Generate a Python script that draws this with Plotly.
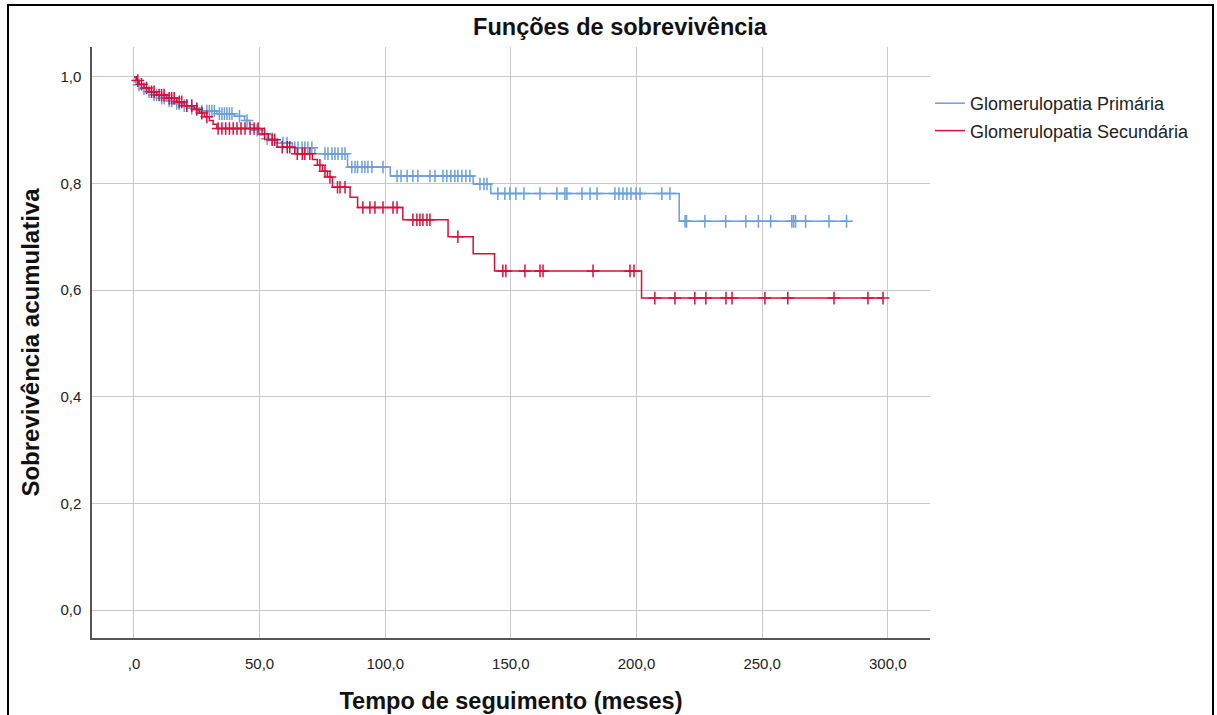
import numpy as np
import plotly.graph_objects as go

# ---- data ----
series_names = ["Glomerulopatia Primária", "Glomerulopatia Secundária"]

primary_event_times = [0.5, 1.5, 3, 5, 7, 10, 13, 16, 19, 22, 26, 33, 40, 44, 46, 48, 50, 52, 56,
                       63, 72, 85, 102, 135, 142, 217]
primary_surv = [0.990, 0.985, 0.978, 0.972, 0.966, 0.960, 0.955, 0.950, 0.946, 0.941, 0.936, 0.931,
                0.926, 0.918, 0.910, 0.900, 0.891, 0.884, 0.876, 0.867, 0.856, 0.831, 0.814, 0.799,
                0.781, 0.729]
primary_end = 283.6
primary_censor = [2, 4, 6, 8, 9, 11, 12, 14, 15, 17, 18, 20, 21, 23, 25, 27, 29, 30, 31, 32, 34, 35,
                  36, 37, 38, 39, 42, 45, 49, 53, 55, 59.3, 60.9, 64, 65.3, 66.9, 68, 69.2, 70.8,
                  76, 77.2, 78.8, 80, 81.2, 82.8, 84, 86.7, 88, 89, 90.7, 91.9, 93.1, 94.7, 99.1,
                  104.7, 106.3, 108.7, 111.0, 113.0, 117.8, 119.8, 123.0, 124.5, 126.1, 127.7,
                  128.9, 130.5, 132.1, 133.7, 137.7, 139.3, 140.5, 144.8, 147.6, 149.6, 152.0,
                  155.2, 161.6, 168.3, 171.5, 172.3, 178.3, 181.5, 184.3, 191.4, 193.0, 194.6,
                  196.2, 197.8, 199.8, 201.4, 210.1, 213.3, 219.3, 219.9, 227.2, 235.5, 243.5,
                  248.5, 253.4, 261.8, 262.5, 263.3, 267.3, 276.6, 283.6]

secondary_event_times = [1, 2, 4, 6, 9, 13, 17, 20, 24, 26, 28, 30, 31.5, 33, 51, 53.5, 57, 64,
                         71, 73, 75, 77, 79, 86, 89, 107, 125, 135, 143.5, 202]
secondary_surv = [0.993, 0.986, 0.979, 0.972, 0.966, 0.960, 0.953, 0.946, 0.939, 0.932, 0.925,
                  0.918, 0.911, 0.903, 0.893, 0.882, 0.868, 0.856, 0.845, 0.834, 0.823, 0.812,
                  0.793, 0.774, 0.755, 0.732, 0.700, 0.668, 0.636, 0.585]
secondary_end = 298.1
secondary_censor = [1.5, 3, 5, 7, 8, 10, 11, 12, 14, 15, 16, 18, 19, 21, 23, 25, 27, 29, 33.5, 35,
                    36.5, 38, 39.5, 41, 42.6, 44.2, 46.2, 47.8, 49.4, 52, 55, 56, 59, 61, 62, 65,
                    67, 68, 70, 74, 76, 78, 81, 82, 84, 91.1, 93.9, 95.9, 99.1, 103.1, 104.7, 111,
                    112.6, 113.8, 115, 116.6, 117.8, 128.9, 146.8, 148, 155.6, 161.6, 162.8,
                    182.7, 197.4, 199.0, 207.3, 215.3, 223.2, 227.6, 235.6, 238.0, 251.1, 260.2,
                    278.6, 292.1, 298.1]

x_tickvals = [0, 50, 100, 150, 200, 250, 300]
x_ticktext = [",0", "50,0", "100,0", "150,0", "200,0", "250,0", "300,0"]
y_tickvals = [0.0, 0.2, 0.4, 0.6, 0.8, 1.0]
y_ticktext = ["0,0", "0,2", "0,4", "0,6", "0,8", "1,0"]

colors = ["#6A9FDC", "#D5103C"]

# ---- build figure ----
W, H = 1217, 715
ml, mr, mt, mb = 92, 287, 47, 77
pw, ph = W - ml - mr, H - mt - mb


def step_xy(times, surv, end):
    xs = [0.0] + list(times) + [end]
    ys = [1.0] + list(surv) + [surv[-1]]
    return xs, ys


def censor_y(times, surv, ct):
    t = np.asarray(times, dtype=float)
    s = np.concatenate([[1.0], np.asarray(surv, dtype=float)])
    idx = np.searchsorted(t, np.asarray(ct, dtype=float), side="right")
    return s[idx]


fig = go.Figure()
groups = [
    (primary_event_times, primary_surv, primary_end, primary_censor),
    (secondary_event_times, secondary_surv, secondary_end, secondary_censor),
]
for name, col, (et, sv, end, cs) in zip(series_names, colors, groups):
    xs, ys = step_xy(et, sv, end)
    fig.add_trace(go.Scatter(x=xs, y=ys, mode="lines", line=dict(shape="hv", color=col, width=1.5),
                             name=name, legendgroup=name, hoverinfo="skip"))
    fig.add_trace(go.Scatter(x=cs, y=censor_y(et, sv, cs), mode="markers", legendgroup=name,
                             showlegend=False,
                             marker=dict(symbol="cross-thin", size=9, color=col,
                                         line=dict(color=col, width=1.5))))

fig.update_layout(
    width=W, height=H,
    margin=dict(l=ml, r=mr, t=mt, b=mb, pad=0, autoexpand=False),
    paper_bgcolor="white", plot_bgcolor="white",
    font=dict(family="Liberation Sans, Arial, sans-serif", color="#222222", size=15),
    title=dict(text="<b>Funções de sobrevivência</b>", x=620 / W, xanchor="center",
               y=1 - 27 / H, yanchor="middle", font=dict(size=23.5, color="#111111")),
    legend=dict(x=1.0, xanchor="left", y=1 - 38 / ph, yanchor="top",
                font=dict(size=18, color="#222222"), bgcolor="rgba(0,0,0,0)",
                tracegroupgap=1, itemwidth=30),
    showlegend=True,
)

fig.update_xaxes(range=[-16.7, 316.8], tickvals=x_tickvals, ticktext=x_ticktext, automargin=False,
                 showgrid=True, gridcolor="#c8c8c8", gridwidth=1, zeroline=False,
                 showline=True, linecolor="#555555", linewidth=1.5, ticks="",
                 tickfont=dict(size=15, color="#222222"), ticklabelstandoff=11,
                 title=dict(text="<b>Tempo de seguimento (meses)</b>", font=dict(size=23.5, color="#111111"),
                            standoff=22))
fig.update_yaxes(range=[-0.0525, 1.056], tickvals=y_tickvals, ticktext=y_ticktext, automargin=False,
                 showgrid=True, gridcolor="#c8c8c8", gridwidth=1, zeroline=False,
                 showline=True, linecolor="#555555", linewidth=1.5, ticks="",
                 tickfont=dict(size=15, color="#222222"), ticklabelstandoff=6,
                 title=dict(text="<b>Sobrevivência acumulativa</b>", font=dict(size=24, color="#111111"),
                            standoff=14))

# outer black frame of the original image
fig.add_shape(type="rect", xref="paper", yref="paper",
              x0=(8 - ml) / pw, x1=(1213 - ml) / pw,
              y0=(H - mb - 722) / ph, y1=(H - mb - 5) / ph,
              line=dict(color="black", width=2), fillcolor="rgba(0,0,0,0)", layer="below")

fig.write_html("out.html", config={"displayModeBar": False},
               post_script="document.body.style.margin='0';document.body.style.padding='0';")
